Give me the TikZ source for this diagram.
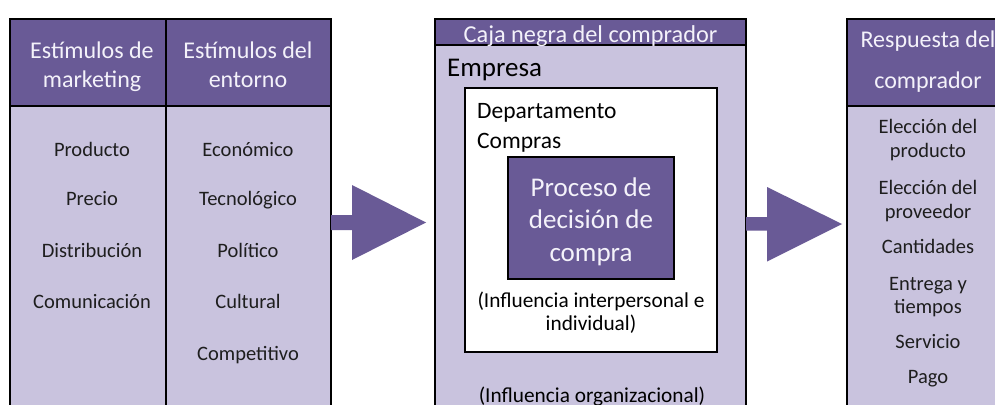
\documentclass[tikz,border=0pt]{standalone}
\usepackage{fontspec}
\setmainfont{Carlito}
\definecolor{hdr}{RGB}{105,90,150}
\definecolor{bodyc}{RGB}{201,195,222}
\definecolor{ink}{RGB}{30,30,30}
\definecolor{hdrtxt}{RGB}{244,242,250}
\begin{document}
\begin{tikzpicture}[x=1pt,y=-1pt,
  frame/.style={draw=black,line width=2.5pt},
  txt/.style={anchor=base,inner sep=0pt,text=ink,font=\fontsize{20.5}{24}\selectfont},
  htxt/.style={anchor=base,inner sep=0pt,text=hdrtxt,font=\fontsize{24}{28}\selectfont},
  mtxt/.style={anchor=base west,inner sep=0pt,text=black},
  ptxt/.style={anchor=base,inner sep=0pt,text=hdrtxt,font=\fontsize{27}{32}\selectfont},
  bigarrow/.style={fill=hdr,draw=none}]
\useasboundingbox (0,0) rectangle (995,404);
\clip (0,0) rectangle (995,404);
\fill[white] (0,0) rectangle (995,404);

% ---- left panel: stimuli
\fill[bodyc] (10,19) rectangle (331,430);
\fill[hdr] (10,19) rectangle (331,106);
\draw[frame] (10,19) rectangle (331,430);
\draw[frame] (10,106) -- (331,106);
\draw[frame] (166,19) -- (166,430);

\node[htxt] (h1a) at (92,59) {Estímulos de};
\node[htxt] (h1b) at (92,87) {marketing};
\node[htxt] (h2a) at (248,59) {Estímulos del};
\node[htxt] (h2b) at (248,87) {entorno};

\node[txt] (m1) at (92,156) {Producto};
\node[txt] (m2) at (92,205) {Precio};
\node[txt] (m3) at (92,257) {Distribución};
\node[txt] (m4) at (92,308) {Comunicación};

\node[txt] (e1) at (248,156) {Económico};
\node[txt] (e2) at (248,205) {Tecnológico};
\node[txt] (e3) at (248,257) {Político};
\node[txt] (e4) at (248,308) {Cultural};
\node[txt] (e5) at (248,360) {Competitivo};

% ---- middle panel: black box
\fill[bodyc] (435,19) rectangle (746,430);
\fill[hdr] (435,19) rectangle (746,45);
\draw[frame] (435,19) rectangle (746,430);
\draw[frame] (435,45) -- (746,45);
\node[htxt,font=\fontsize{24.3}{28}\selectfont] (cj) at (590.5,42) {Caja negra del comprador};
\node[mtxt,font=\fontsize{27}{32}\selectfont] (emp) at (447,77) {Empresa};

\fill[white] (465,88) rectangle (717,352);
\draw[frame] (465,88) rectangle (717,352);
\node[mtxt,font=\fontsize{23.5}{28}\selectfont] (dep1) at (477,118) {Departamento};
\node[mtxt,font=\fontsize{23.5}{28}\selectfont] (dep2) at (477,148) {Compras};

\fill[hdr] (508,157) rectangle (674,279);
\draw[frame] (508,157) rectangle (674,279);
\node[ptxt] (p1) at (591,196) {Proceso de};
\node[ptxt] (p2) at (591,228) {decisión de};
\node[ptxt] (p3) at (591,261) {compra};

\node[txt,text=black,font=\fontsize{21.3}{25}\selectfont] (ii1) at (591,307) {(Influencia interpersonal e};
\node[txt,text=black,font=\fontsize{21.3}{25}\selectfont] (ii2) at (591,330) {individual)};
\node[txt,text=black,font=\fontsize{21.3}{25}\selectfont] (io) at (592,402) {(Influencia organizacional)};

% ---- right panel: response
\fill[bodyc] (847,19) rectangle (1012,430);
\fill[hdr] (847,19) rectangle (1012,106);
\draw[frame] (847,19) rectangle (1012,430);
\draw[frame] (847,106) -- (1012,106);
\node[htxt] (r1) at (928,48) {Respuesta del};
\node[htxt] (r2) at (928,88) {comprador};

\node[txt] (s1a) at (928,133) {Elección del};
\node[txt] (s1b) at (928,157) {producto};
\node[txt] (s2a) at (928,194) {Elección del};
\node[txt] (s2b) at (928,218) {proveedor};
\node[txt] (s3) at (928,253) {Cantidades};
\node[txt] (s4a) at (928,290) {Entrega y};
\node[txt] (s4b) at (928,313) {tiempos};
\node[txt] (s5) at (928,348) {Servicio};
\node[txt] (s6) at (928,383) {Pago};

% ---- block arrows
\coordinate (a1s) at (331,222.5);
\coordinate (a1t) at (426,222.5);
\fill[bigarrow] (a1s) ++(0,-7.5) -- ++(21,0) -- ++(0,-30) -- (a1t)
  -- ++(-74,37.5) -- ++(0,-30) -- ++(-21,0) -- cycle;
\coordinate (a2s) at (746,224);
\coordinate (a2t) at (842,224);
\fill[bigarrow] (a2s) ++(0,-7) -- ++(21,0) -- ++(0,-30) -- (a2t)
  -- ++(-75,37.5) -- ++(0,-31) -- ++(-21,0) -- cycle;
\end{tikzpicture}
\end{document}
